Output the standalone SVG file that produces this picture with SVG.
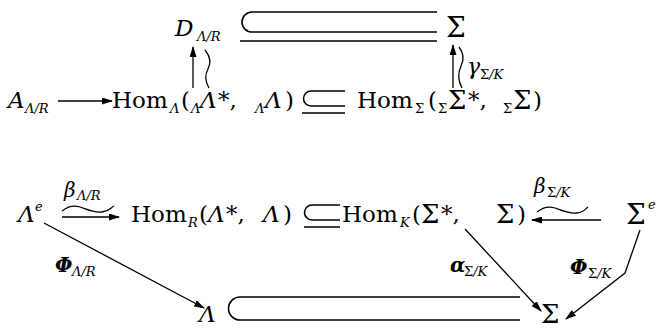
<svg xmlns="http://www.w3.org/2000/svg" width="661" height="328" viewBox="0 0 661 328">
<style>
text{fill:#000;font-family:"DejaVu Serif","Liberation Serif",serif}
.m{font-size:23px}
.i{font-size:23px;font-style:italic}
.g{font-size:26px}
.G{font-size:28px}
.s{font-size:13px;font-style:italic}
.u{font-style:normal}
.l{font-size:20px;font-style:italic}
.b{font-weight:bold}
.ln{fill:none;stroke:#000;stroke-width:1.3}
.sb{fill:none;stroke:#000;stroke-width:1.6}
</style>
<defs>
<marker id="ah" markerUnits="userSpaceOnUse" markerWidth="11" markerHeight="7" refX="10" refY="3.5" orient="auto">
<path d="M0,0 L11,3.5 L0,7 z" fill="#000"/>
</marker>
</defs>
<rect width="661" height="328" fill="#fff"/>

<g id="n-D">
<text class="i" x="175" y="36">D</text><text class="s" x="197" y="41">Λ/R</text>
</g>
<g id="n-Sigma-top">
<text class="G" x="446" y="37">Σ</text>
</g>
<g id="n-A">
<text class="i" x="8" y="108">A</text><text class="s" x="25" y="113">Λ/R</text>
</g>
<g id="n-HomL">
<text class="m" x="112" y="108">Hom</text><text class="s" x="170" y="113">Λ</text>
<text class="m" x="181" y="108">(</text><text class="s" x="191" y="113">Λ</text>
<text class="i" x="200" y="108">Λ</text><text class="m" x="218" y="108">*,</text>
<text class="s" x="255" y="113">Λ</text><text class="i" x="265" y="108">Λ</text>
<text class="m" x="285" y="108">)</text>
</g>
<g id="n-HomS">
<text class="m" x="357" y="108">Hom</text><text class="s u" x="415" y="113">Σ</text>
<text class="m" x="428" y="108">(</text><text class="s u" x="438" y="113">Σ</text>
<text class="g" x="448" y="109">Σ</text><text class="m" x="468" y="108">*,</text>
<text class="s u" x="503" y="113">Σ</text><text class="g" x="513" y="109">Σ</text>
<text class="m" x="533" y="108">)</text>
</g>
<g id="n-Le">
<text class="i" x="18" y="222">Λ</text><text class="s" x="35" y="211">e</text>
</g>
<g id="n-HomR">
<text class="m" x="131" y="222">Hom</text><text class="s" x="188" y="227">R</text>
<text class="m" x="199" y="222">(</text><text class="i" x="208" y="222">Λ</text>
<text class="m" x="226" y="222">*,</text><text class="i" x="263" y="222">Λ</text>
<text class="m" x="283" y="222">)</text>
</g>
<g id="n-HomK">
<text class="m" x="342" y="222">Hom</text><text class="s" x="400" y="227">K</text>
<text class="m" x="412" y="222">(</text><text class="g" x="421" y="223">Σ</text>
<text class="m" x="441" y="222">*,</text><text class="g" x="496" y="223">Σ</text>
<text class="m" x="517" y="222">)</text>
</g>
<g id="n-Se">
<text class="G" x="626" y="224">Σ</text><text class="s" x="648" y="209">e</text>
</g>
<g id="n-L">
<text class="i" x="199" y="322">Λ</text>
</g>
<g id="n-Sigma-bot">
<text class="g" x="541" y="323">Σ</text>
</g>

<g id="connectors">
<path class="sb" d="M437 12 H252 A10 10 0 0 0 252 32 H437 M240 41 H437"/>
<path class="sb" d="M345 91 H311 A7.5 7.5 0 0 0 311 106 H345 M302 113 H345"/>
<path class="sb" d="M340 205 H312 A7.5 7.5 0 0 0 312 220 H340 M304 227 H340"/>
<path class="sb" d="M520 297 H240 A11.5 11.5 0 0 0 240 320 H520"/>
<line class="ln" x1="193" y1="88" x2="193" y2="47" marker-end="url(#ah)"/>
<path class="ln" d="M205 50 Q213 60 208 69 Q203 78 209 88"/>
<line class="ln" x1="453" y1="88" x2="453" y2="45" marker-end="url(#ah)"/>
<path class="ln" d="M459 47 Q466 56 461 66 Q456 77 462 88"/>
<line class="ln" x1="58" y1="101" x2="112" y2="101" marker-end="url(#ah)"/>
<path class="ln" d="M62 211 C68 206 74 205 80 207 S94 213 102 212 S110 208 114 206"/>
<line class="ln" x1="62" y1="217" x2="119" y2="217" marker-end="url(#ah)"/>
<path class="ln" d="M537 212 C543 207 549 206 555 208 S569 214 577 213 S585 209 588 207"/>
<line class="ln" x1="601" y1="220" x2="532" y2="220" marker-end="url(#ah)"/>
<line class="ln" x1="44" y1="223" x2="204" y2="308" marker-end="url(#ah)"/>
<line class="ln" x1="465" y1="229" x2="541" y2="311" marker-end="url(#ah)"/>
<polyline class="ln" points="640,230 625,273 566,319" marker-end="url(#ah)"/>
<text class="i" x="467" y="74" style="font-size:22px">γ</text><text class="s" x="480" y="79"><tspan class="u">Σ</tspan>/K</text>
<text class="l" x="64" y="197">β</text><text class="s" x="77" y="200">Λ/R</text>
<text class="l" x="534" y="193">β</text><text class="s" x="547" y="197"><tspan class="u">Σ</tspan>/K</text>
<text class="l b" x="55" y="272">Φ</text><text class="s" x="72" y="276">Λ/R</text>
<text class="l b" x="450" y="272">α</text><text class="s" x="464" y="276"><tspan class="u">Σ</tspan>/K</text>
<text class="l b" x="570" y="274">Φ</text><text class="s" x="588" y="278"><tspan class="u">Σ</tspan>/K</text>
</g>
</svg>
